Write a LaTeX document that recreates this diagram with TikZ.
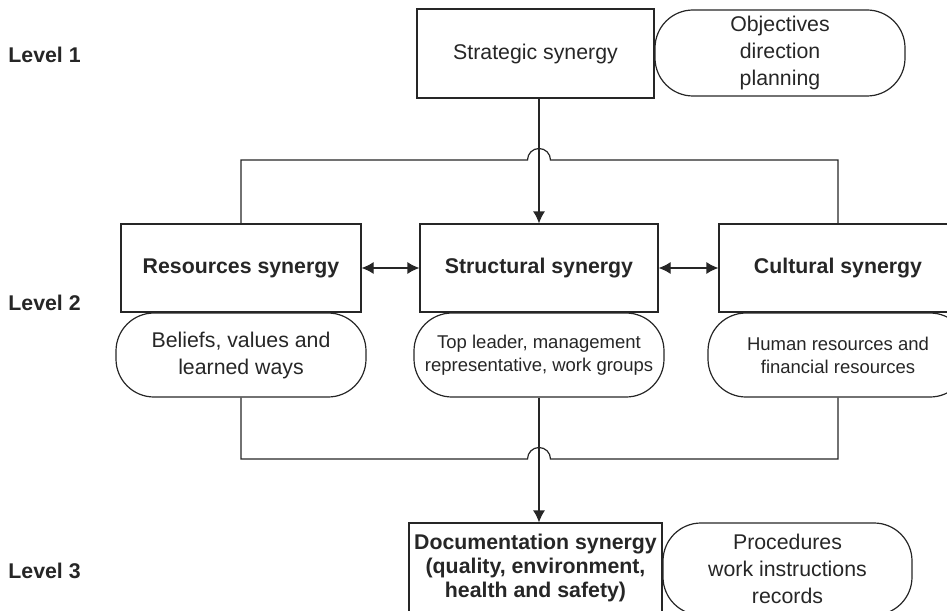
\documentclass[tikz,border=0pt]{standalone}
\usepackage{fontspec}
\setmainfont{Liberation Sans}
\usetikzlibrary{arrows.meta}

\colorlet{DiagramLine}{black!85}
\colorlet{DiagramText}{black!85}

\tikzset{
    plainbox/.style={draw=DiagramLine, line width=0.6pt, align=center, inner sep=0pt,
        text=DiagramText, font=\fontsize{10.65}{13.5}\selectfont},
    boldbox/.style={plainbox, font=\fontsize{10.65}{12}\selectfont\bfseries},
    aspectbox/.style={plainbox, rounded corners=19pt},
    smalltext/.style={font=\fontsize{9.25}{11.5}\selectfont},
    levellabel/.style={anchor=west, inner sep=0pt, text=DiagramText,
        font=\fontsize{10.65}{13}\selectfont\bfseries},
    link/.style={draw=DiagramLine, line width=0.6pt},
    onearrow/.style={-{Latex[length=6pt,width=6pt]}},
    twoarrow/.style={{Latex[length=6pt,width=6pt]}-{Latex[length=6pt,width=6pt]}}
}

\begin{document}
\begin{tikzpicture}[x=0.5pt, y=-0.5pt]

    \useasboundingbox (0,0) rectangle (947,610);

    \def\jumpRadius{5.75pt}

    % level 1
    \node[levellabel] (levelOne) at (8,55) {Level 1};
    \node[plainbox, minimum width=118.5pt, minimum height=44.5pt]
        (strategic) at (535.5,53.5) {Strategic synergy};
    \node[aspectbox, minimum width=125pt, minimum height=43pt]
        (objectives) at (780,53) {Objectives\\direction\\planning};

    % level 2
    \node[levellabel] (levelTwo) at (8,303) {Level 2};
    \node[boldbox, minimum width=120pt, minimum height=44pt]
        (resources) at (241,268) {Resources synergy};
    \node[boldbox, minimum width=119pt, minimum height=44pt]
        (structural) at (539,268) {Structural synergy};
    \node[boldbox, minimum width=119pt, minimum height=44pt]
        (cultural) at (838,268) {Cultural synergy};

    \node[aspectbox, minimum width=125pt, minimum height=42pt]
        (beliefs) at (241,355) {Beliefs, values and\\learned ways};
    \node[aspectbox, smalltext, minimum width=125pt, minimum height=42pt]
        (leaders) at (539,355) {Top leader, management\\representative, work groups};
    \node[aspectbox, smalltext, minimum width=130pt, minimum height=42pt]
        (humanres) at (838,355) {Human resources and\\financial resources};

    % level 3
    \node[levellabel] (levelThree) at (8,571) {Level 3};
    \node[boldbox, minimum width=126.5pt, minimum height=44.5pt]
        (documentation) at (535.5,567.5)
        {Documentation synergy\\(quality, environment,\\health and safety)};
    \node[aspectbox, minimum width=124.5pt, minimum height=46pt]
        (procedures) at (787.5,569) {Procedures\\work instructions\\records};

    % connections
    \coordinate (topJump) at (539,160);
    \coordinate (bottomJump) at (539,459);

    \draw[link] (resources.north) |- ([xshift=-\jumpRadius]topJump)
        arc[start angle=180, end angle=0, radius=\jumpRadius] -| (cultural.north);
    \draw[link, onearrow] (strategic.south -| structural.north) -- (structural.north);

    \draw[link, twoarrow] (resources) -- (structural);
    \draw[link, twoarrow] (structural) -- (cultural);

    \draw[link] (beliefs.south) |- ([xshift=-\jumpRadius]bottomJump)
        arc[start angle=180, end angle=0, radius=\jumpRadius] -| (humanres.south);
    \draw[link, onearrow] (leaders.south) -- (leaders.south |- documentation.north);

\end{tikzpicture}
\end{document}
